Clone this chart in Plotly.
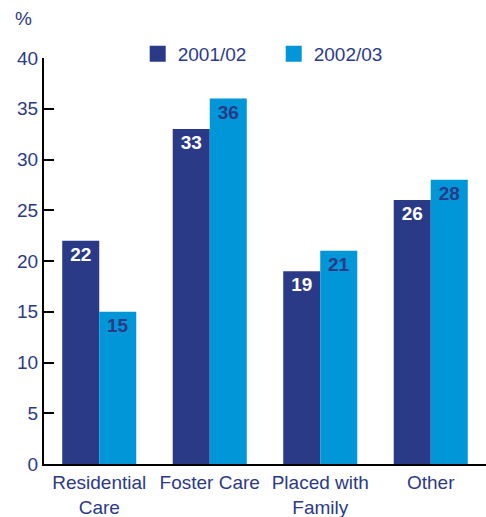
import plotly.graph_objects as go

categories = ["Residential<br>Care", "Foster Care", "Placed with<br>Family", "Other"]
values_2001 = [22, 33, 19, 26]
values_2002 = [15, 36, 21, 28]
y_ticks = [0, 5, 10, 15, 20, 25, 30, 35, 40]

NAVY = "#2b3a86"
CYAN = "#0096d8"
FONT = "Liberation Sans, Arial, sans-serif"

fig = go.Figure()
fig.add_trace(go.Bar(
    x=categories, y=values_2001, name="2001/02", showlegend=False,
    marker=dict(color=NAVY, line=dict(width=0)),
    text=values_2001, textposition="inside", insidetextanchor="end",
    textfont=dict(family=FONT, size=19, color="white", weight="bold"),
))
fig.add_trace(go.Bar(
    x=categories, y=values_2002, name="2002/03", showlegend=False,
    marker=dict(color=CYAN, line=dict(width=0)),
    text=values_2002, textposition="inside", insidetextanchor="end",
    textfont=dict(family=FONT, size=19, color=NAVY, weight="bold"),
))

# legend entries with bigger square swatches
for name, color in [("2001/02", NAVY), ("2002/03", CYAN)]:
    fig.add_trace(go.Scatter(
        x=[None], y=[None], mode="markers", name=name,
        marker=dict(symbol="square", size=18, color=color),
    ))

fig.update_layout(
    width=486, height=517,
    margin=dict(l=44, r=0, t=58, b=53),
    paper_bgcolor="white", plot_bgcolor="white",
    font=dict(family=FONT, size=19, color=NAVY),
    barmode="group", bargap=0.33, bargroupgap=0,
    showlegend=True,
    legend=dict(
        orientation="h", x=0.212, y=1.01, xanchor="left", yanchor="middle",
        font=dict(size=19, color=NAVY), traceorder="normal",
        entrywidth=91, entrywidthmode="pixels",
        bgcolor="rgba(0,0,0,0)",
    ),
    uniformtext=dict(minsize=19, mode="show"),
    annotations=[dict(
        text="%", x=0, y=1, xref="paper", yref="paper",
        xanchor="center", yanchor="middle",
        xshift=-21, yshift=40, showarrow=False,
        font=dict(size=19, color=NAVY),
    )],
)
fig.update_yaxes(
    range=[0, 40], tickvals=y_ticks, showgrid=False, zeroline=False,
    showline=True, linecolor="black", linewidth=2,
    ticks="inside", ticklen=10, tickwidth=2, tickcolor="black",
    tickfont=dict(size=19, color=NAVY),
)
fig.update_xaxes(
    showgrid=False, showline=True, linecolor="black", linewidth=2,
    ticks="", tickfont=dict(size=19, color=NAVY),
)

fig.write_html(
    "out.html",
    config={"displayModeBar": False},
    post_script="document.body.style.margin='0';",
)
